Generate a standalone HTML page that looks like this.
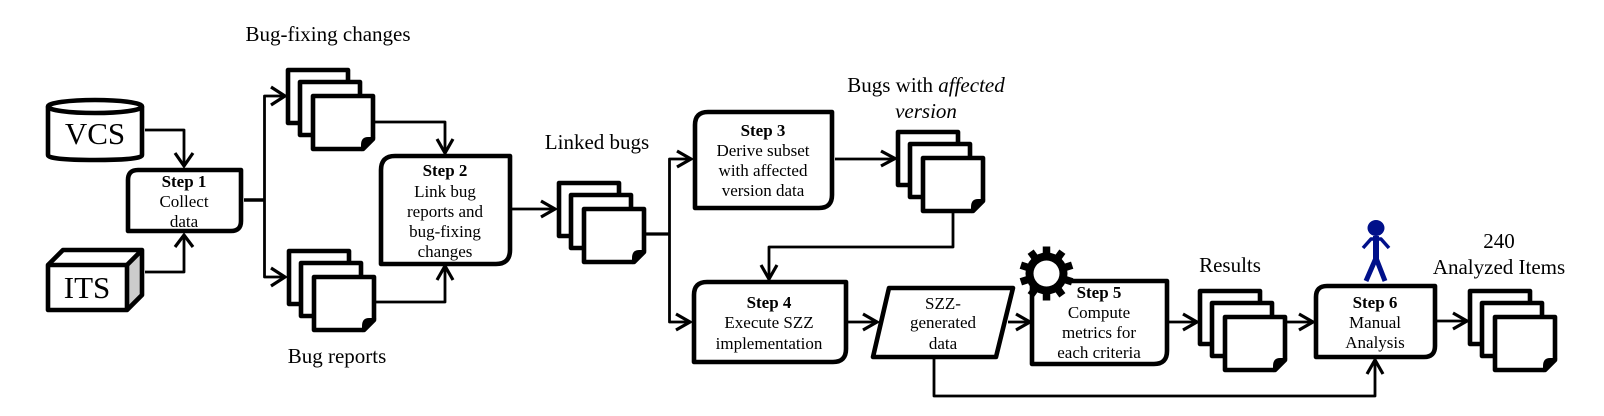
<!DOCTYPE html>
<html><head><meta charset="utf-8">
<style>
html,body{margin:0;padding:0;background:#fff}
svg{display:block}
text{font-family:"Liberation Serif",serif;fill:#000;text-anchor:middle}
.s{font-size:17px}
.b{font-size:17px;font-weight:bold}
.l{font-size:21px}
.t{font-size:31px}
.box{fill:#fff;stroke:#000;stroke-width:4.600;stroke-linejoin:round}
.c{fill:none;stroke:#000;stroke-width:2.800;stroke-linejoin:round}
.a{fill:none;stroke:#000;stroke-width:3.200;stroke-linejoin:miter}
</style></head><body>
<svg width="1604" height="416" viewBox="0 0 1604 416" xmlns="http://www.w3.org/2000/svg">
<defs>
<g id="stack">
<rect class="box" x="2" y="2" width="60" height="53"/>
<rect class="box" x="14" y="14" width="60" height="53"/>
<path class="box" d="M27 28H87V71L77 81H27Z"/>
<path d="M76 81L87 70H82Q76 70 76 77Z" fill="#000" stroke="#000" stroke-width="2"/>
</g>
</defs>

<!-- connectors -->
<path class="c" d="M145 130H184V166M145 272H184V235"/>
<path class="a" d="M175 153L184 166L193 153M175 247L184 235L193 247"/>
<path d="M244 200H265" stroke="#000" stroke-width="3.600" fill="none"/>
<path class="c" d="M285 96H264.500V277H285"/>
<path class="a" d="M271 87L285 96L271 105M271 268L285 277L271 286"/>
<path class="c" d="M375 122H445V153M376 302H445V266"/>
<path class="a" d="M437 139L445 153L453 139M437 280L445 266L453 280"/>
<path class="c" d="M512 209H555"/>
<path class="a" d="M541 201L555 209L541 217"/>
<path d="M646 234H670" stroke="#000" stroke-width="3.200" fill="none"/>
<path class="c" d="M691 159H669.500V322H690"/>
<path class="a" d="M677 151L691 159L677 167M676 314L690 322L676 330"/>
<path class="c" d="M835 159H895"/>
<path class="a" d="M881 151L895 158.500L881 166"/>
<path class="c" d="M953 213V247H769V279"/>
<path class="a" d="M761 265L769 279L777 265"/>
<path class="c" d="M848 322H877"/>
<path class="a" d="M863 314L877 322L863 330"/>
<path class="c" d="M1008 322H1030"/>
<path class="a" d="M1016 314L1030 322L1016 330"/>
<path class="c" d="M1168 322H1197"/>
<path class="a" d="M1183 314L1197 322L1183 330"/>
<path class="c" d="M1286 322H1313"/>
<path class="a" d="M1299 314L1313 322L1299 330"/>
<path class="c" d="M1436 321H1467"/>
<path class="a" d="M1453 313L1467 321L1453 329"/>
<path class="c" d="M934 357V396H1375V360"/>
<path class="a" d="M1367 374L1375 360L1383 374"/>

<!-- VCS -->
<path class="box" d="M48 106.500V155Q48 160 95 160Q142 160 142 155V106.500"/>
<ellipse class="box" cx="95" cy="106.500" rx="47" ry="6.500"/>
<text class="t" x="95" y="144">VCS</text>

<!-- ITS -->
<path d="M127 265L142 250V295L127 310Z" fill="#ccc"/>
<path class="box" style="fill:none" d="M48 265L63 250H142V295L127 310M127 265L142 250"/>
<rect class="box" x="48" y="265" width="79" height="45"/>
<text class="t" x="87" y="298">ITS</text>

<!-- Steps -->
<path class="box" d="M138 170H241V221Q241 231 231 231H128V180Q128 170 138 170Z"/>
<text class="b" x="184" y="187">Step 1</text>
<text class="s" x="184" y="207">Collect</text>
<text class="s" x="184" y="227">data</text>

<path class="box" d="M395 156H510V250Q510 264 496 264H381V170Q381 156 395 156Z"/>
<text class="b" x="445" y="176">Step 2</text>
<text class="s" x="445" y="197">Link bug</text>
<text class="s" x="445" y="217">reports and</text>
<text class="s" x="445" y="237">bug-fixing</text>
<text class="s" x="445" y="257">changes</text>

<path class="box" d="M708 112H832V195Q832 208 819 208H695V125Q695 112 708 112Z"/>
<text class="b" x="763" y="136">Step 3</text>
<text class="s" x="763" y="156">Derive subset</text>
<text class="s" x="763" y="176">with affected</text>
<text class="s" x="763" y="196">version data</text>

<path class="box" d="M707 282H846V349Q846 362 833 362H694V295Q694 282 707 282Z"/>
<text class="b" x="769" y="308">Step 4</text>
<text class="s" x="769" y="328">Execute SZZ</text>
<text class="s" x="769" y="349">implementation</text>

<path class="box" d="M889 288H1013L996 357H873Z"/>
<text class="s" x="943" y="309">SZZ-</text>
<text class="s" x="943" y="328">generated</text>
<text class="s" x="943" y="349">data</text>

<path class="box" d="M1032 281H1167V351Q1167 364 1154 364H1032Z"/>
<text class="b" x="1099" y="298">Step 5</text>
<text class="s" x="1099" y="318">Compute</text>
<text class="s" x="1099" y="338">metrics for</text>
<text class="s" x="1099" y="358">each criteria</text>

<path class="box" d="M1327 286H1435V346Q1435 357 1424 357H1316V297Q1316 286 1327 286Z"/>
<text class="b" x="1375" y="308">Step 6</text>
<text class="s" x="1375" y="328">Manual</text>
<text class="s" x="1375" y="348">Analysis</text>

<!-- Stacks -->
<use href="#stack" x="286" y="68"/>
<use href="#stack" x="287" y="249"/>
<use href="#stack" x="557" y="181"/>
<use href="#stack" x="896" y="130"/>
<use href="#stack" x="1198" y="289"/>
<use href="#stack" x="1468" y="289"/>

<!-- Labels -->
<text class="l" x="328" y="41">Bug-fixing changes</text>
<text class="l" x="337" y="363">Bug reports</text>
<text class="l" x="597" y="149">Linked bugs</text>
<text class="l" x="926" y="92">Bugs with <tspan font-style="italic">affected</tspan></text>
<text class="l" x="926" y="118" font-style="italic">version</text>
<text class="l" x="1230" y="272">Results</text>
<text class="l" x="1499" y="248">240</text>
<text class="l" x="1499" y="274">Analyzed Items</text>

<!-- Gear -->
<g transform="translate(1046.500 273.500)">
<g stroke="#000" stroke-width="7.500" stroke-linecap="butt">
<line x1="0" y1="-15" x2="0" y2="-27"/>
<line x1="0" y1="-15" x2="0" y2="-27" transform="rotate(36)"/>
<line x1="0" y1="-15" x2="0" y2="-27" transform="rotate(72)"/>
<line x1="0" y1="-15" x2="0" y2="-27" transform="rotate(108)"/>
<line x1="0" y1="-15" x2="0" y2="-27" transform="rotate(144)"/>
<line x1="0" y1="-15" x2="0" y2="-27" transform="rotate(180)"/>
<line x1="0" y1="-15" x2="0" y2="-27" transform="rotate(216)"/>
<line x1="0" y1="-15" x2="0" y2="-27" transform="rotate(252)"/>
<line x1="0" y1="-15" x2="0" y2="-27" transform="rotate(288)"/>
<line x1="0" y1="-15" x2="0" y2="-27" transform="rotate(324)"/>
</g>
<circle r="21" fill="#000"/>
<circle r="13" fill="#fff"/>
</g>

<!-- Person -->
<g stroke="#00108a" fill="none" stroke-linejoin="round">
<ellipse cx="1376" cy="228" rx="8.500" ry="8" fill="#00108a" stroke="none"/>
<path d="M1376 236V259" stroke-width="6"/>
<path d="M1363 248L1371 239H1381L1389 248" stroke-width="3.500"/>
<path d="M1376 258L1366 281M1376 258L1385 281" stroke-width="5"/>
</g>
</svg>
</body></html>
